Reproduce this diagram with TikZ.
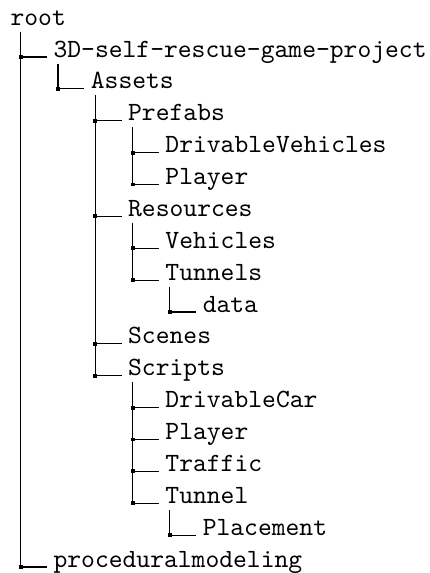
\documentclass[tikz,border=0pt]{standalone}
\usetikzlibrary{positioning}

\begin{document}
\begin{tikzpicture}[
  x=0.38pt, y=-0.38pt,
  every node/.style={font=\ttfamily},
  entry/.style={anchor=base west, inner xsep=2.3pt, inner ysep=0pt},
  junction/.style={fill=black, inner sep=0pt, minimum size=1.5pt},
  branch/.style={line width=0.45pt}
]
\pgfmathsetmacro{\rh}{31.875}
\pgfmathsetmacro{\ind}{37.3}
\useasboundingbox (0,0) rectangle (430,573);
% top of the tree
\node[entry] (root) at (4,25) {root};
\coordinate (root-stem) at (20.7,31.5);
% entries: name/level/row/text
\foreach \name/\lvl/\row/\txt in {
  proj/1/1/3D-self-rescue-game-project,
  assets/2/2/Assets,
  prefabs/3/3/Prefabs,
  drivveh/4/4/DrivableVehicles,
  prefplayer/4/5/Player,
  resources/3/6/Resources,
  vehicles/4/7/Vehicles,
  tunnels/4/8/Tunnels,
  data/5/9/data,
  scenes/3/10/Scenes,
  scripts/3/11/Scripts,
  drivcar/4/12/DrivableCar,
  scrplayer/4/13/Player,
  traffic/4/14/Traffic,
  tunnel/4/15/Tunnel,
  placement/5/16/Placement,
  procmod/1/17/proceduralmodeling}{
  \node[entry] (\name) at ({9.7+\ind*\lvl}, {57+\rh*(\row-1)}) {\txt};
  \coordinate (\name-stem) at ({20.7+\ind*\lvl}, {63.5+\rh*(\row-1)});
}
% branches from parent stem to child
\foreach \name/\parent in {
  proj/root, assets/proj, prefabs/assets, drivveh/prefabs, prefplayer/prefabs,
  resources/assets, vehicles/resources, tunnels/resources, data/tunnels,
  scenes/assets, scripts/assets, drivcar/scripts, scrplayer/scripts,
  traffic/scripts, tunnel/scripts, placement/tunnel, procmod/root}{
  \draw[branch] (\parent-stem) |- (\name.base west);
  \node[junction] (\name-dot) at (\parent-stem |- \name.base west) {};
}
\end{tikzpicture}
\end{document}
